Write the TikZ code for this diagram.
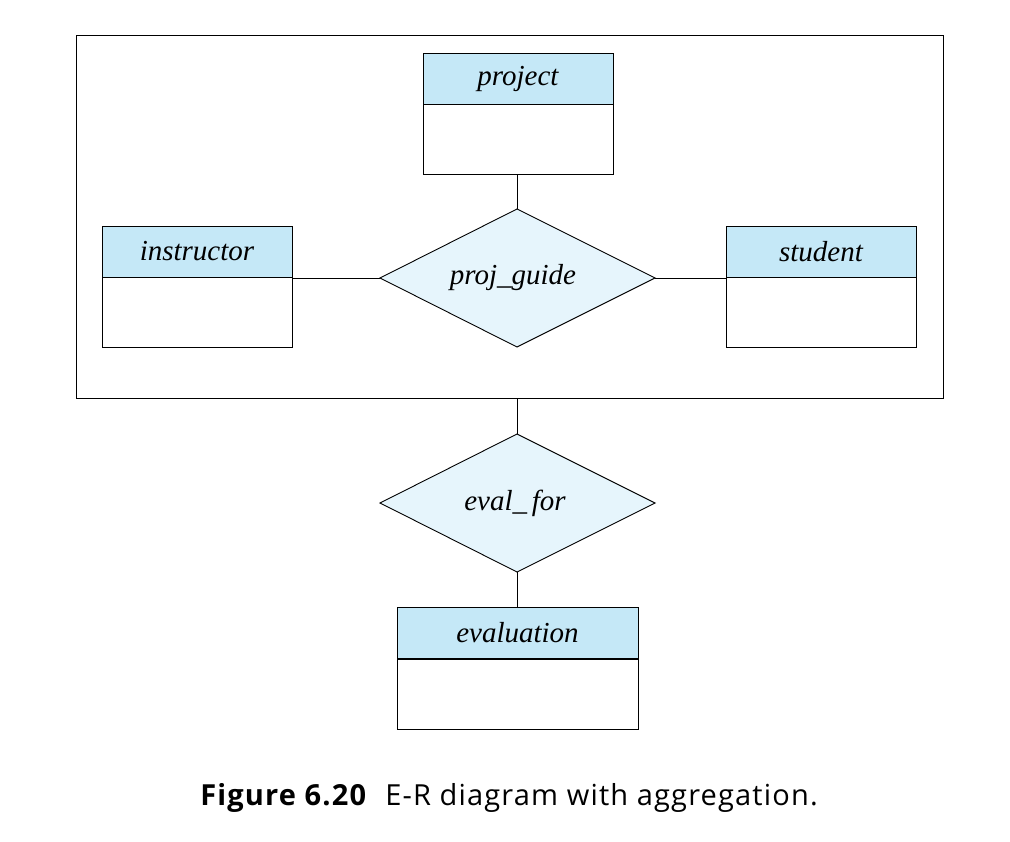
\documentclass[tikz,border=0pt]{standalone}
\usepackage{fontspec}
\setmainfont{Liberation Serif}
\newfontfamily\capfont{Open Sans}
\definecolor{hdr}{HTML}{C5E8F7}
\definecolor{dia}{HTML}{E6F5FC}
\begin{document}
\begin{tikzpicture}[x=1pt,y=-1pt,line width=0.9pt,
  ent/.style={draw,fill=hdr,minimum height=51pt,inner sep=0,font=\fontsize{29}{32}\selectfont\itshape},
  entbody/.style={draw,fill=white,minimum height=70pt,inner sep=0},
  rel/.style={draw,fill=dia}]
\useasboundingbox (0,0) rectangle (1010,842);
\node[draw,minimum width=867pt,minimum height=363pt,inner sep=0] (agg) at (509.5,216.5) {};
% project
\node[ent,minimum width=190pt] (projH) at (518,78.5) {project};
\node[entbody,minimum width=190pt,anchor=north] (projB) at (projH.south) {};
% instructor
\node[ent,minimum width=190pt] (instH) at (197,251.5) {instructor};
\node[entbody,minimum width=190pt,anchor=north] (instB) at (instH.south) {};
% student
\node[ent,minimum width=190pt] (studH) at (821,251.5) {student};
\node[entbody,minimum width=190pt,anchor=north] (studB) at (studH.south) {};
% evaluation
\node[ent,minimum width=241pt] (evH) at (517.5,633) {evaluation};
\node[entbody,minimum width=241pt,anchor=north] (evB) at (evH.south) {};
% diamonds
\coordinate (pgT) at (517,209); \coordinate (pgB) at (517,347);
\coordinate (pgL) at (380,278); \coordinate (pgR) at (655,278);
\draw[rel] (pgT)--(pgR)--(pgB)--(pgL)--cycle;
\node[font=\fontsize{29}{32}\selectfont\itshape] (pg) at (513,278) {proj\_guide};
\coordinate (efT) at (517,434); \coordinate (efB) at (517,572);
\coordinate (efL) at (380,503); \coordinate (efR) at (655,503);
\draw[rel] (efT)--(efR)--(efB)--(efL)--cycle;
\node[font=\fontsize{29}{32}\selectfont\itshape] (ef) at (515,503) {eval\_\,for};
% connectors
\draw (projB.south -| pgT) -- (pgT);
\draw (pgL) -- (pgL -| instH.east);
\draw (pgR) -- (pgR -| studH.west);
\draw (agg.south -| efT) -- (efT);
\draw (efB) -- (efB |- evH.north);
% caption
\node[font=\capfont\fontsize{29}{34}\selectfont\addfontfeature{LetterSpace=4}] (cap) at (509,798) {\textbf{Figure 6.20}\hspace{18pt}E-R diagram with aggregation.};
\end{tikzpicture}
\end{document}
